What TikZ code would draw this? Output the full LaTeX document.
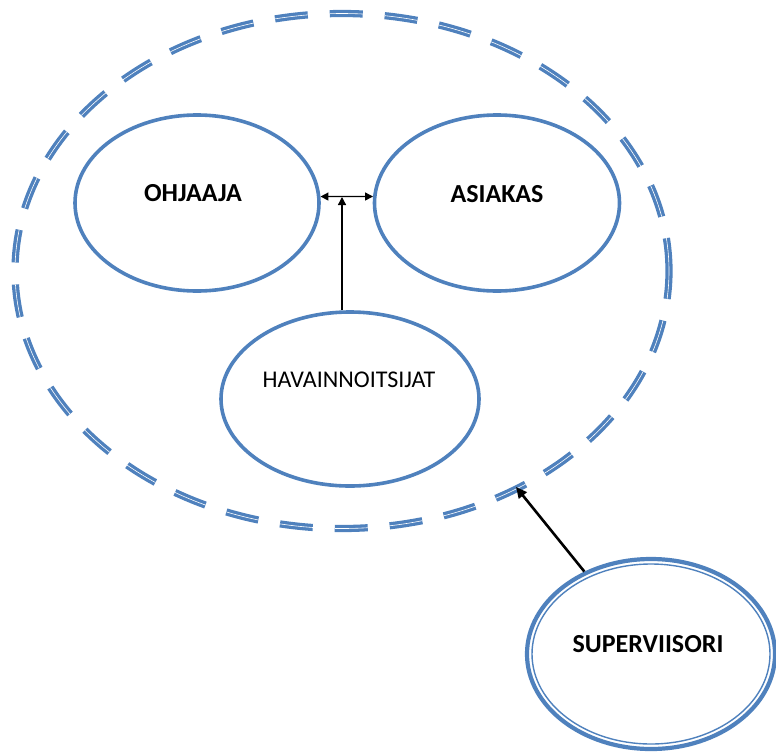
\documentclass[tikz,border=0pt]{standalone}
\usepackage{fontspec}
\setmainfont{Carlito}
\usetikzlibrary{shapes.geometric,arrows.meta}
\definecolor{obl}{HTML}{4F81BD}
\tikzset{
  ell/.style={ellipse, draw=obl, line width=3.6pt, inner sep=0pt},
  lbl/.style={font=\fontsize{26}{30}\selectfont\bfseries},
  lblr/.style={font=\fontsize{24}{28}\selectfont},
  thinarrow/.style={black, line width=1.3pt, -{Triangle[length=8pt,width=8pt]}},
  thickarrow/.style={black, line width=2.6pt, -{Triangle[length=11pt,width=10pt]}},
}
\begin{document}
\begin{tikzpicture}[x=1pt,y=-1pt]
\useasboundingbox (0,0) rectangle (776,753);
% outer dashed double ellipse
\node[ellipse, draw=obl, double=white, line width=3.3pt, double distance=0.6pt,
      dash pattern=on 33pt off 22pt, minimum width=654pt, minimum height=515pt, inner sep=0pt]
      (outer) at (342,271) {};
% inner ellipses
\node[ell, minimum width=244pt, minimum height=176pt,
      label={[lbl, xshift=-4pt, yshift=10pt]center:OHJAAJA}] (o) at (197,203) {};
\node[ell, minimum width=245pt, minimum height=176pt,
      label={[lbl, yshift=9pt]center:ASIAKAS}] (a) at (497,203) {};
\node[ell, minimum width=258pt, minimum height=174pt,
      label={[lblr, xshift=-1pt, yshift=19pt]center:HAVAINNOITSIJAT}] (h) at (350,399) {};
% supervisor, double line
\node[ellipse, draw=obl, line width=4.2pt, inner sep=0pt,
      minimum width=248pt, minimum height=190pt,
      label={[lbl, xshift=-3pt, yshift=10pt]center:SUPERVIISORI}] (s) at (651,654) {};
\draw[obl, line width=1.4pt] (s.center) ellipse [x radius=119pt, y radius=90pt];
% connectors
\coordinate (m) at (342,197);
\coordinate (stip) at (516,487);
\draw[thinarrow, {Triangle[length=8pt,width=8pt]}-{Triangle[length=8pt,width=8pt]}] (o.3) -- (a.177);
\draw[thinarrow] (h.north -| m) -- (m);
\draw[thickarrow] (s) -- (stip);
\end{tikzpicture}
\end{document}
